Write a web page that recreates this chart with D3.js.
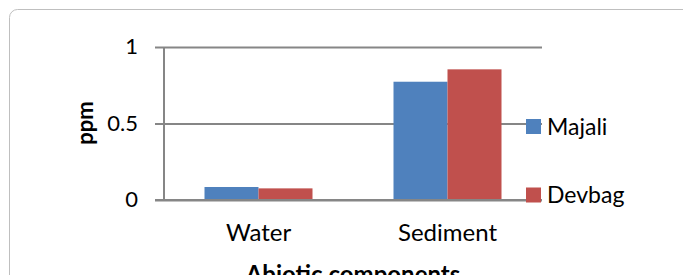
<!DOCTYPE html>
<html>
<head>
<meta charset="utf-8">
<script src="https://cdn.jsdelivr.net/npm/d3@7/dist/d3.min.js"></script>
<style>
  html, body { margin: 0; padding: 0; background: #fff; }
  svg { display: block; }
  text { font-family: Lato, "Open Sans", sans-serif; fill: #000; }
</style>
</head>
<body>
<svg id="chart" width="683" height="275"></svg>
<script>
const categories = ["Water", "Sediment"];
const seriesNames = ["Majali", "Devbag"];
const majali = [0.085, 0.773];
const devbag = [0.076, 0.854];
const yTicks = [0, 0.5, 1];
const colors = ["#4F81BD", "#C0504D"];
const yTitle = "ppm";
const xTitle = "Abiotic components";

(function () {
const series = [majali, devbag];
const svg = d3.select("#chart");

// outer frame
svg.append("rect")
  .attr("x", 9.5).attr("y", 9.5)
  .attr("width", 720).attr("height", 320)
  .attr("rx", 8).attr("ry", 8)
  .attr("fill", "#fff")
  .attr("stroke", "#BFBFBF").attr("stroke-width", 1);

const pLeft = 164, pRight = 542, pTop = 47, pBottom = 200;

const x = d3.scaleBand().domain(categories).range([pLeft, pRight]).paddingInner(0).paddingOuter(0);
const y = d3.scaleLinear().domain([0, 1]).range([pBottom, pTop]);
const xs = d3.scaleBand().domain(seriesNames).range([0, x.bandwidth()]).paddingInner(0).paddingOuter(0.75);

// gridlines with ticks
const yAxis = d3.axisLeft(y).tickValues(yTicks).tickFormat(d3.format("")).tickSize(-(pRight - pLeft));
const gy = svg.append("g").attr("transform", `translate(${pLeft},0)`).call(yAxis);
gy.select(".domain").remove();
gy.selectAll(".tick line")
  .attr("x1", -9)
  .attr("stroke", "#868686").attr("stroke-width", 2);
gy.selectAll(".tick text")
  .attr("font-size", 22).attr("font-family", "Lato, sans-serif").attr("fill", "#000")
  .attr("x", -26).attr("dy", "0.3em");

// y axis line
svg.append("line")
  .attr("x1", pLeft).attr("x2", pLeft)
  .attr("y1", pTop).attr("y2", pBottom)
  .attr("stroke", "#868686").attr("stroke-width", 2);

// bars
const g = svg.append("g");
seriesNames.forEach((s, si) => {
  g.selectAll(null).data(categories).enter().append("rect")
    .attr("x", c => x(c) + xs(s))
    .attr("width", xs.bandwidth())
    .attr("y", (c, i) => y(series[si][i]))
    .attr("height", (c, i) => y(0) - y(series[si][i]))
    .attr("fill", colors[si]);
});

// x axis line (0 gridline) over bars
svg.append("line")
  .attr("x1", pLeft - 9).attr("x2", pRight)
  .attr("y1", y(0)).attr("y2", y(0))
  .attr("stroke", "#868686").attr("stroke-width", 2);

// category labels
const xAxis = d3.axisBottom(x).tickSize(0).tickPadding(24);
const gx = svg.append("g").attr("transform", `translate(0,${pBottom})`).call(xAxis);
gx.select(".domain").remove();
gx.selectAll(".tick text")
  .attr("font-size", 24).attr("font-family", "Lato, sans-serif").attr("fill", "#000");

// y title
svg.append("text")
  .attr("transform", `translate(${93},${123}) rotate(-90)`)
  .attr("text-anchor", "middle")
  .attr("font-size", 22).attr("font-weight", "bold")
  .text(yTitle);

// x title
svg.append("text")
  .attr("x", (pLeft + pRight) / 2).attr("y", 283)
  .attr("text-anchor", "middle")
  .attr("font-size", 24).attr("font-weight", "bold")
  .text(xTitle);

// legend
const legendY = [126.5, 195];
const lg = svg.append("g");
seriesNames.forEach((s, i) => {
  lg.append("rect")
    .attr("x", 526).attr("y", legendY[i] - 7.5)
    .attr("width", 15).attr("height", 15)
    .attr("fill", colors[i]);
  lg.append("text")
    .attr("x", 547).attr("y", legendY[i] + 8)
    .attr("font-size", 23)
    .text(s);
});
})();
</script>
</body>
</html>
